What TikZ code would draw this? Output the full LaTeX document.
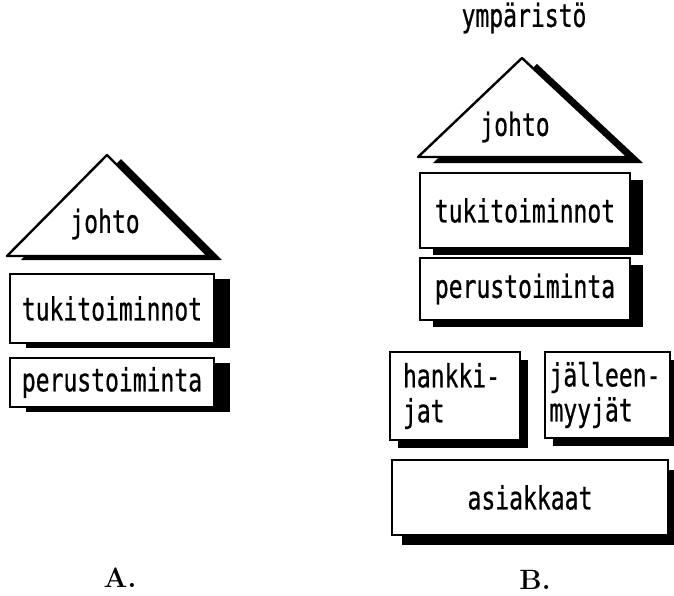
\documentclass[tikz,border=0pt]{standalone}
\usepackage{fontspec}
\newfontfamily\dotfont[FakeStretch=0.72,FakeBold=0.6]{DejaVu Sans Mono}
\usetikzlibrary{shadows}

\begin{document}
\begin{tikzpicture}[x=0.5pt,y=-0.5pt,
  teksti/.style={font=\dotfont\fontsize{16}{17.5}\selectfont,inner sep=0pt},
  lohko/.style={teksti,draw,fill=white,line width=1.2pt},
  katto/.style={draw,fill=white,line width=1.2pt,line join=round},
  varjo/.style 2 args={drop shadow={shadow xshift=#1,shadow yshift=#2,fill=black,opacity=1}},
  tunnus/.style={font=\fontsize{14}{16}\selectfont\bfseries,inner sep=0pt}]
\useasboundingbox (0,0) rectangle (674,595);

% A: kolme kerrosta
\filldraw[katto,varjo={7pt}{-2pt}] (7,256) -- (107,155) -- (208,256) -- cycle;
\node[teksti] (johtoA) at (105,224) {johto};
\node[lohko,varjo={8pt}{-2.5pt},minimum width=102pt,minimum height=34.5pt] (tukiA) at (112,308.5) {tukitoiminnot};
\node[lohko,varjo={8pt}{-2.5pt},minimum width=102pt,minimum height=24.5pt] (perusA) at (112,382.5) {perustoiminta};
\node[tunnus] (tunnusA) at (120,578) {A.};

% B: ympäristö mukana
\node[teksti] (ymp) at (524,18) {ympäristö};
\filldraw[katto,varjo={7.5pt}{-3pt}] (418,157) -- (522,58) -- (628,157) -- cycle;
\node[teksti] (johtoB) at (515,127) {johto};
\node[lohko,varjo={6.5pt}{-3.5pt},minimum width=105pt,minimum height=37.5pt] (tukiB) at (525,210.5) {tukitoiminnot};
\node[lohko,varjo={6.5pt}{-3.5pt},minimum width=105pt,minimum height=31pt] (perusB) at (525,289) {perustoiminta};
\node[lohko,varjo={4pt}{-4pt},text width=52pt,inner xsep=6.5pt,align=left,minimum height=44pt] (hankB) at (455,396) {hankki-\\jat};
\node[lohko,varjo={4pt}{-4pt},text width=58pt,inner xsep=2.25pt,align=left,minimum height=43pt] (jallB) at (607.5,395) {jälleen-\\myyjät};
\node[lohko,varjo={5pt}{-5pt},minimum width=138pt,minimum height=37.5pt] (asiakB) at (530,497.5) {asiakkaat};
\node[tunnus] (tunnusB) at (535,580) {B.};
\end{tikzpicture}
\end{document}
